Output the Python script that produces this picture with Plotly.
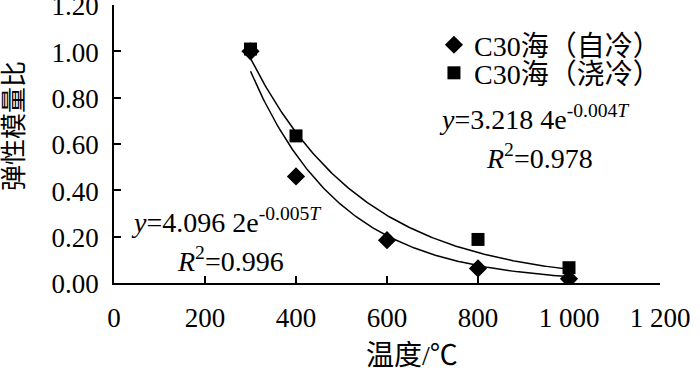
import numpy as np
import plotly.graph_objects as go

# Data
temp_self = [300, 400, 600, 800, 1000]
ratio_self = [1.00, 0.46, 0.185, 0.063, 0.018]
temp_water = [300, 400, 800, 1000]
ratio_water = [1.01, 0.635, 0.188, 0.066]

# Fitted trend lines printed in the chart: y = a * exp(b*T)
fit_self = (4.0962, -0.005)
fit_water = (3.2184, -0.004)
fit_range = (300, 1000)

x_ticks = [0, 200, 400, 600, 800, 1000, 1200]
x_tick_text = ["0", "200", "400", "600", "800", "1 000", "1 200"]
y_ticks = [0, 0.2, 0.4, 0.6, 0.8, 1.0, 1.2]

serif = "Liberation Serif, serif"
cjk = "Liberation Serif, Noto Sans CJK SC, serif"
fs = 27
tfont = dict(family=serif, size=fs, color="black")
afont = dict(family=serif, size=28, color="black")

T = np.linspace(fit_range[0], fit_range[1], 200)

fig = go.Figure()
fig.add_trace(go.Scatter(x=T, y=fit_self[0] * np.exp(fit_self[1] * T), mode="lines",
                         line=dict(color="black", width=1.5), showlegend=False, hoverinfo="skip"))
fig.add_trace(go.Scatter(x=T, y=fit_water[0] * np.exp(fit_water[1] * T), mode="lines",
                         line=dict(color="black", width=1.5), showlegend=False, hoverinfo="skip"))
fig.add_trace(go.Scatter(x=temp_self, y=ratio_self, mode="markers", name="C30海（自冷）",
                         marker=dict(symbol="diamond", size=14, color="black"), legend="legend"))
fig.add_trace(go.Scatter(x=temp_water, y=ratio_water, mode="markers", name="C30海（浇冷）",
                         marker=dict(symbol="square", size=13, color="black"), legend="legend2"))

fig.add_annotation(x=925, y=0.716, xref="x", yref="y", showarrow=False,
                   text="<i>y</i>=3.218 4e<sup>-0.004<i>T</i></sup>", font=afont)
fig.add_annotation(x=936, y=0.544, xref="x", yref="y", showarrow=False,
                   text="<i>R</i><sup>2</sup>=0.978", font=afont)
fig.add_annotation(x=248, y=0.268, xref="x", yref="y", showarrow=False,
                   text="<i>y</i>=4.096 2e<sup>-0.005<i>T</i></sup>", font=afont)
fig.add_annotation(x=255, y=0.10, xref="x", yref="y", showarrow=False,
                   text="<i>R</i><sup>2</sup>=0.996", font=afont)

# axis titles
fig.add_annotation(x=-0.181, y=0.565, xref="paper", yref="paper", showarrow=False,
                   xanchor="center", yanchor="middle",
                   text="弹性模量比", textangle=-90, font=dict(family=cjk, size=26, color="black"))
fig.add_annotation(x=0.546, y=-0.259, xref="paper", yref="paper", showarrow=False,
                   xanchor="center", yanchor="middle",
                   text="温度/℃", font=dict(family=cjk, size=28, color="black"))

legfont = dict(family=cjk, size=28, color="black")
fig.update_layout(
    width=700, height=374,
    margin=dict(l=114, r=40, t=5, b=91),
    paper_bgcolor="white", plot_bgcolor="white",
    font=tfont,
    legend=dict(x=0.586, y=0.856, xanchor="left", yanchor="middle", bgcolor="rgba(0,0,0,0)",
                font=legfont, itemwidth=30),
    legend2=dict(x=0.586, y=0.755, xanchor="left", yanchor="middle", bgcolor="rgba(0,0,0,0)",
                 font=legfont, itemwidth=30),
    xaxis=dict(range=[0, 1200], tickvals=x_ticks, ticktext=x_tick_text, showline=True,
               linecolor="black", linewidth=1.5, ticks="inside", ticklen=7, tickwidth=1.5,
               tickcolor="black", showgrid=False, zeroline=False, ticklabelstandoff=10,
               tickfont=tfont, automargin=False, ticklabeloverflow="allow"),
    yaxis=dict(range=[0, 1.2001], tickvals=y_ticks, tickformat=".2f", showline=True,
               linecolor="black", linewidth=1.5, ticks="inside", ticklen=7, tickwidth=1.5,
               tickcolor="black", showgrid=False, zeroline=False, ticklabelstandoff=8,
               ticklabelshift=1, tickfont=tfont, automargin=False, ticklabeloverflow="allow"),
)
fig.write_html("out.html", config={"displayModeBar": False},
               post_script="document.body.style.margin='0';")
